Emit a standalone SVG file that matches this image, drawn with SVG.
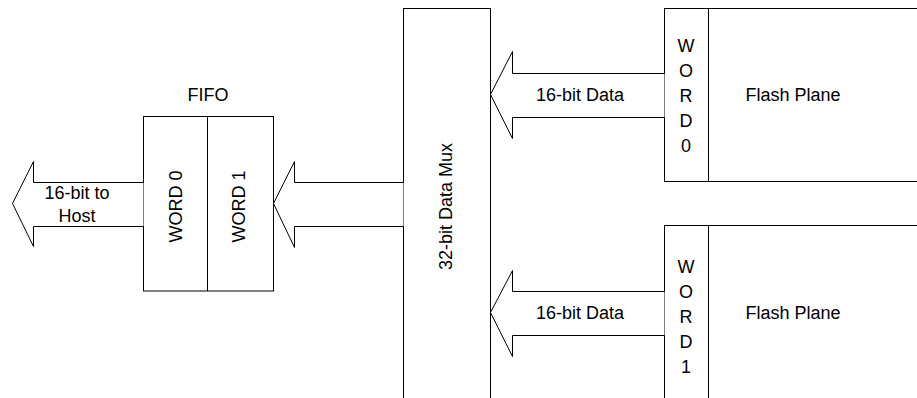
<svg xmlns="http://www.w3.org/2000/svg" width="917" height="398" viewBox="0 0 917 398">
<style>
.box{fill:#fff;stroke:#000;stroke-width:1}
.arr{fill:#fff;stroke:#000;stroke-width:1;stroke-linejoin:miter}
text{font-family:"Liberation Sans",Arial,sans-serif;font-size:18px;fill:#000;text-anchor:middle}
</style>
<rect width="917" height="398" fill="#fff"/>
<g id="mux">
<rect class="box" x="403.5" y="8.5" width="87" height="400"/>
<text transform="translate(451.5,206.5) rotate(-90)">32-bit Data Mux</text>
</g>
<g id="fifo">
<rect class="box" x="143.5" y="116.5" width="130" height="174.5"/>
<line class="box" x1="207.5" y1="116.5" x2="207.5" y2="291"/>
<text x="208" y="100.5">FIFO</text>
<text transform="translate(181.5,206.5) rotate(-90)">WORD 0</text>
<text transform="translate(244.5,206.5) rotate(-90)">WORD 1</text>
</g>
<g id="flash0">
<rect class="box" x="664.5" y="8.5" width="300" height="173"/>
<line class="box" x1="708.5" y1="8.5" x2="708.5" y2="181.5"/>
<text x="686" y="51.5">W</text>
<text x="686" y="76.5">O</text>
<text x="686" y="101.5">R</text>
<text x="686" y="126.5">D</text>
<text x="686" y="151.5">0</text>
<text x="793" y="100.5">Flash Plane</text>
</g>
<g id="flash1">
<rect class="box" x="664.5" y="225.5" width="300" height="200"/>
<line class="box" x1="708.5" y1="225.5" x2="708.5" y2="420"/>
<text x="686" y="273">W</text>
<text x="686" y="298">O</text>
<text x="686" y="323">R</text>
<text x="686" y="348">D</text>
<text x="686" y="373">1</text>
<text x="793" y="319">Flash Plane</text>
</g>
<g id="connectors">
<polyline class="arr" points="143.5,182.5 33.5,182.5 33.5,161.5 12.5,203.5 33.5,246.5 33.5,226.5 143.5,226.5"/>
<text x="77" y="199">16-bit to</text>
<text x="77" y="221.5">Host</text>
<polyline class="arr" points="403.5,182.5 294.5,182.5 294.5,161.5 273.5,203.5 294.5,247.5 294.5,226.5 403.5,226.5"/>
<polyline class="arr" points="664.5,73.5 512.5,73.5 512.5,51.5 490.5,94.5 512.5,138.5 512.5,117.5 664.5,117.5"/>
<text x="580" y="100.5">16-bit Data</text>
<polyline class="arr" points="664.5,291.5 512.5,291.5 512.5,270.5 490.5,312.5 512.5,356.5 512.5,335.5 664.5,335.5"/>
<text x="580" y="319">16-bit Data</text>
</g>
</svg>
